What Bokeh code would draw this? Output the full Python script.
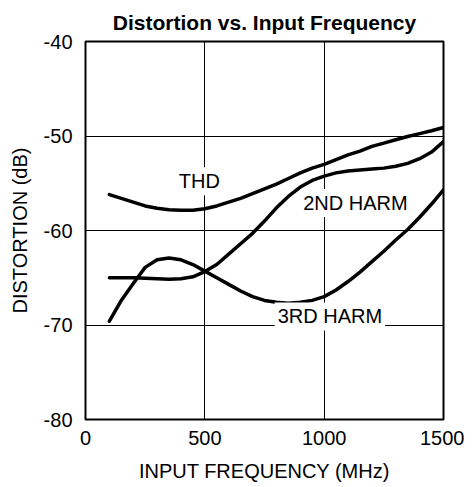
from bokeh.plotting import figure
from bokeh.models import Range1d, FixedTicker, Label
from bokeh.embed import file_html
from bokeh.resources import INLINE

# ---- data ----
freq = [100, 150, 200, 250, 300, 350, 400, 450, 500, 550, 600, 650, 700, 750, 800,
        850, 900, 950, 1000, 1050, 1100, 1150, 1200, 1250, 1300, 1350, 1400, 1450, 1500]
thd = [-56.2, -56.6, -57.0, -57.4, -57.65, -57.8, -57.85, -57.85, -57.7, -57.4, -57.0,
       -56.6, -56.1, -55.6, -55.1, -54.5, -53.9, -53.4, -53.0, -52.5, -52.0, -51.6,
       -51.1, -50.75, -50.4, -50.05, -49.75, -49.45, -49.1]
harm2 = [-65.0, -65.0, -65.0, -65.05, -65.1, -65.15, -65.1, -64.9, -64.35, -63.6, -62.5,
         -61.4, -60.3, -59.0, -57.6, -56.4, -55.4, -54.7, -54.25, -53.9, -53.7, -53.6,
         -53.5, -53.4, -53.2, -52.9, -52.4, -51.7, -50.6]
harm3 = [-69.6, -67.4, -65.6, -63.9, -63.1, -62.9, -63.1, -63.6, -64.3, -65.0, -65.7,
         -66.4, -67.0, -67.4, -67.6, -67.7, -67.6, -67.4, -67.0, -66.3, -65.4, -64.4,
         -63.3, -62.2, -61.0, -59.9, -58.6, -57.2, -55.7]

x_ticks = [0, 500, 1000, 1500]
y_ticks = [-80, -70, -60, -50, -40]

labels = ["THD", "2ND HARM", "3RD HARM"]
label_x = [477, 1131, 1024]
label_y = [-54.8, -57.1, -69.1]

FONT = "Liberation Sans"

p = figure(frame_width=358, frame_height=378, output_backend="svg", toolbar_location=None,
           x_range=Range1d(0, 1500), y_range=Range1d(-80, -40),
           min_border_left=85, min_border_right=21, min_border_top=41, min_border_bottom=60,
           title="Distortion vs. Input Frequency")

p.title.text_font = FONT
p.title.text_font_size = "21px"
p.title.text_font_style = "bold"
p.title.align = "center"
p.title.text_color = "black"
p.title.standoff = 15

p.outline_line_color = "black"
p.outline_line_width = 2
p.outline_line_alpha = 1
p.background_fill_color = "white"
p.border_fill_color = "white"

for ax in (p.xaxis[0], p.yaxis[0]):
    ax.axis_line_color = None
    ax.major_tick_line_color = None
    ax.minor_tick_line_color = None
    ax.major_tick_in = 0
    ax.major_tick_out = 0
    ax.minor_tick_in = 0
    ax.minor_tick_out = 0
    ax.major_label_text_font = FONT
    ax.major_label_text_font_size = "20px"
    ax.major_label_text_color = "black"
    ax.axis_label_text_font = FONT
    ax.axis_label_text_font_size = "20px"
    ax.axis_label_text_font_style = "normal"
    ax.axis_label_text_color = "black"

p.xaxis.ticker = FixedTicker(ticks=x_ticks)
p.yaxis.ticker = FixedTicker(ticks=y_ticks)
p.xaxis.major_label_overrides = {t: str(t) for t in x_ticks}
p.yaxis.major_label_overrides = {t: str(t) for t in y_ticks}
p.xaxis.axis_label = "INPUT FREQUENCY (MHz)"
p.yaxis.axis_label = "DISTORTION (dB)"
p.xaxis.major_label_standoff = 11
p.xaxis.axis_label_standoff = 12
p.yaxis.major_label_standoff = 13
p.yaxis.axis_label_standoff = 10

p.grid.grid_line_color = "black"
p.grid.grid_line_width = 1
p.grid.grid_line_alpha = 1
p.xgrid.ticker = FixedTicker(ticks=x_ticks)
p.ygrid.ticker = FixedTicker(ticks=y_ticks)

for series in (thd, harm2, harm3):
    p.line(freq, series, line_color="black", line_width=3.5, line_join="round", line_cap="round")

for t, lx, ly in zip(labels, label_x, label_y):
    p.add_layout(Label(x=lx, y=ly, text=t, text_align="center", text_baseline="middle",
                       text_font=FONT, text_font_size="20px", text_color="black",
                       background_fill_color="white", background_fill_alpha=1, padding=3))

open("out.html", "w").write(file_html(p, INLINE))
